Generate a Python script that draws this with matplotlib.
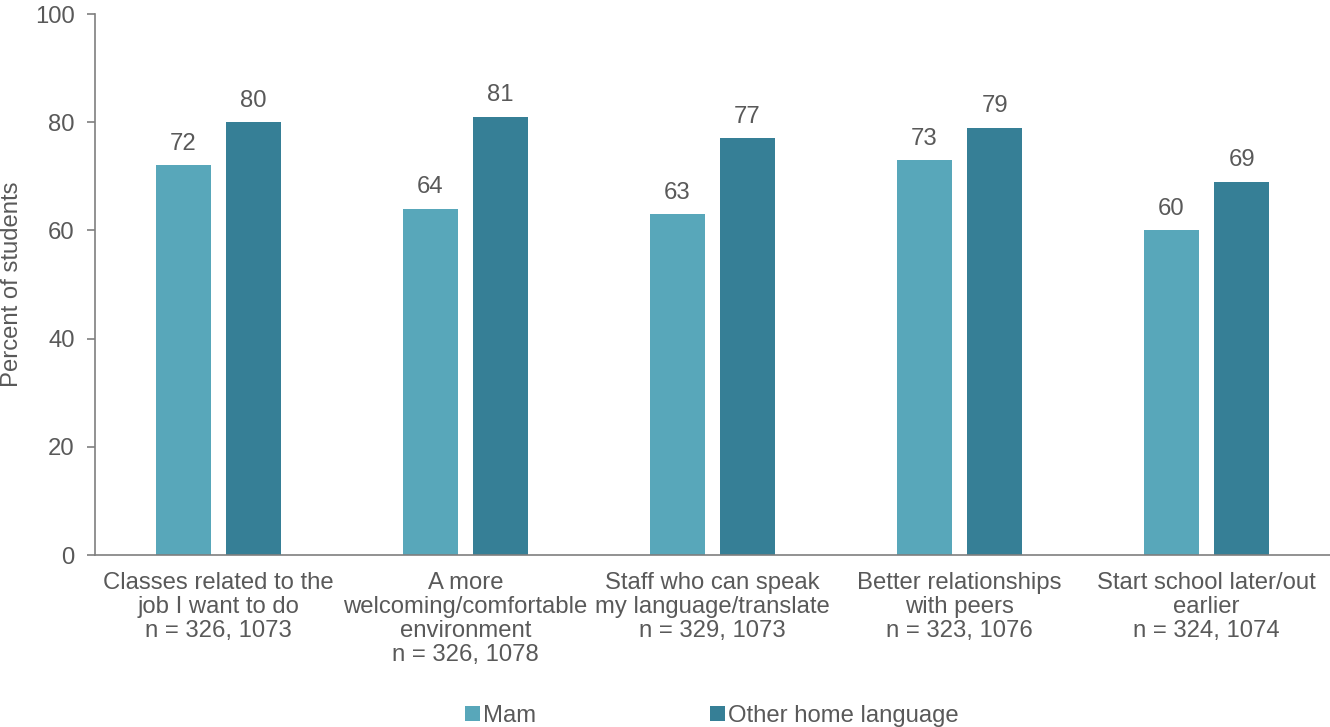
import matplotlib
matplotlib.use("Agg")
import matplotlib.pyplot as plt
import numpy as np

plt.rcParams['font.family'] = ['Liberation Sans', 'DejaVu Sans']

categories = [
    "Classes related to the\njob I want to do\nn = 326, 1073",
    "A more\nwelcoming/comfortable\nenvironment\nn = 326, 1078",
    "Staff who can speak\nmy language/translate\nn = 329, 1073",
    "Better relationships\nwith peers\nn = 323, 1076",
    "Start school later/out\nearlier\nn = 324, 1074",
]
mam = [72, 64, 63, 73, 60]
other = [80, 81, 77, 79, 69]
series_names = ["Mam", "Other home language"]
yticks = [0, 20, 40, 60, 80, 100]

c_mam = "#58A7BA"
c_other = "#367F96"
text_c = "#595959"
axis_c = "#7F7F7F"
fs = 17.2

fig = plt.figure(figsize=(13.3, 7.27), dpi=100)
ax = fig.add_axes([95 / 1330, (727 - 555) / 727, 1 - 95 / 1330, (555 - 14) / 727])

x = np.arange(len(categories))
w = 0.223
off = 0.142
b1 = ax.bar(x - off, mam, w, color=c_mam, label=series_names[0])
b2 = ax.bar(x + off, other, w, color=c_other, label=series_names[1])

for bars, vals in ((b1, mam), (b2, other)):
    for rect, v in zip(bars, vals):
        ax.annotate(f"{v}", (rect.get_x() + rect.get_width() / 2, v),
                    xytext=(0, 7.5), textcoords="offset points",
                    ha="center", va="bottom", fontsize=fs, color=text_c)

ax.set_xlim(-0.5, len(categories) - 0.5)
ax.set_ylim(0, 100)
ax.set_yticks(yticks)
ax.set_xticks(x)
ax.set_xticklabels(categories, fontsize=fs, color=text_c, linespacing=1.11)
ax.tick_params(axis="x", length=0, pad=12.5)
ax.tick_params(axis="y", length=6, width=1.2, color=axis_c, labelsize=fs,
               labelcolor=text_c, pad=8.5)
ax.set_ylabel("Percent of students", fontsize=fs, color=text_c, labelpad=9)

for s in ("top", "right"):
    ax.spines[s].set_visible(False)
for s in ("left", "bottom"):
    ax.spines[s].set_color(axis_c)
    ax.spines[s].set_linewidth(1.2)

fig.legend(handles=[b1, b2], labels=series_names, loc="center",
           bbox_to_anchor=(712 / 1330, 1 - 716 / 727), ncol=2, frameon=False,
           fontsize=fs, labelcolor=text_c, handlelength=0.62, handleheight=0.62,
           handletextpad=0.12, columnspacing=7.3)

fig.savefig("out.png", dpi=100)
